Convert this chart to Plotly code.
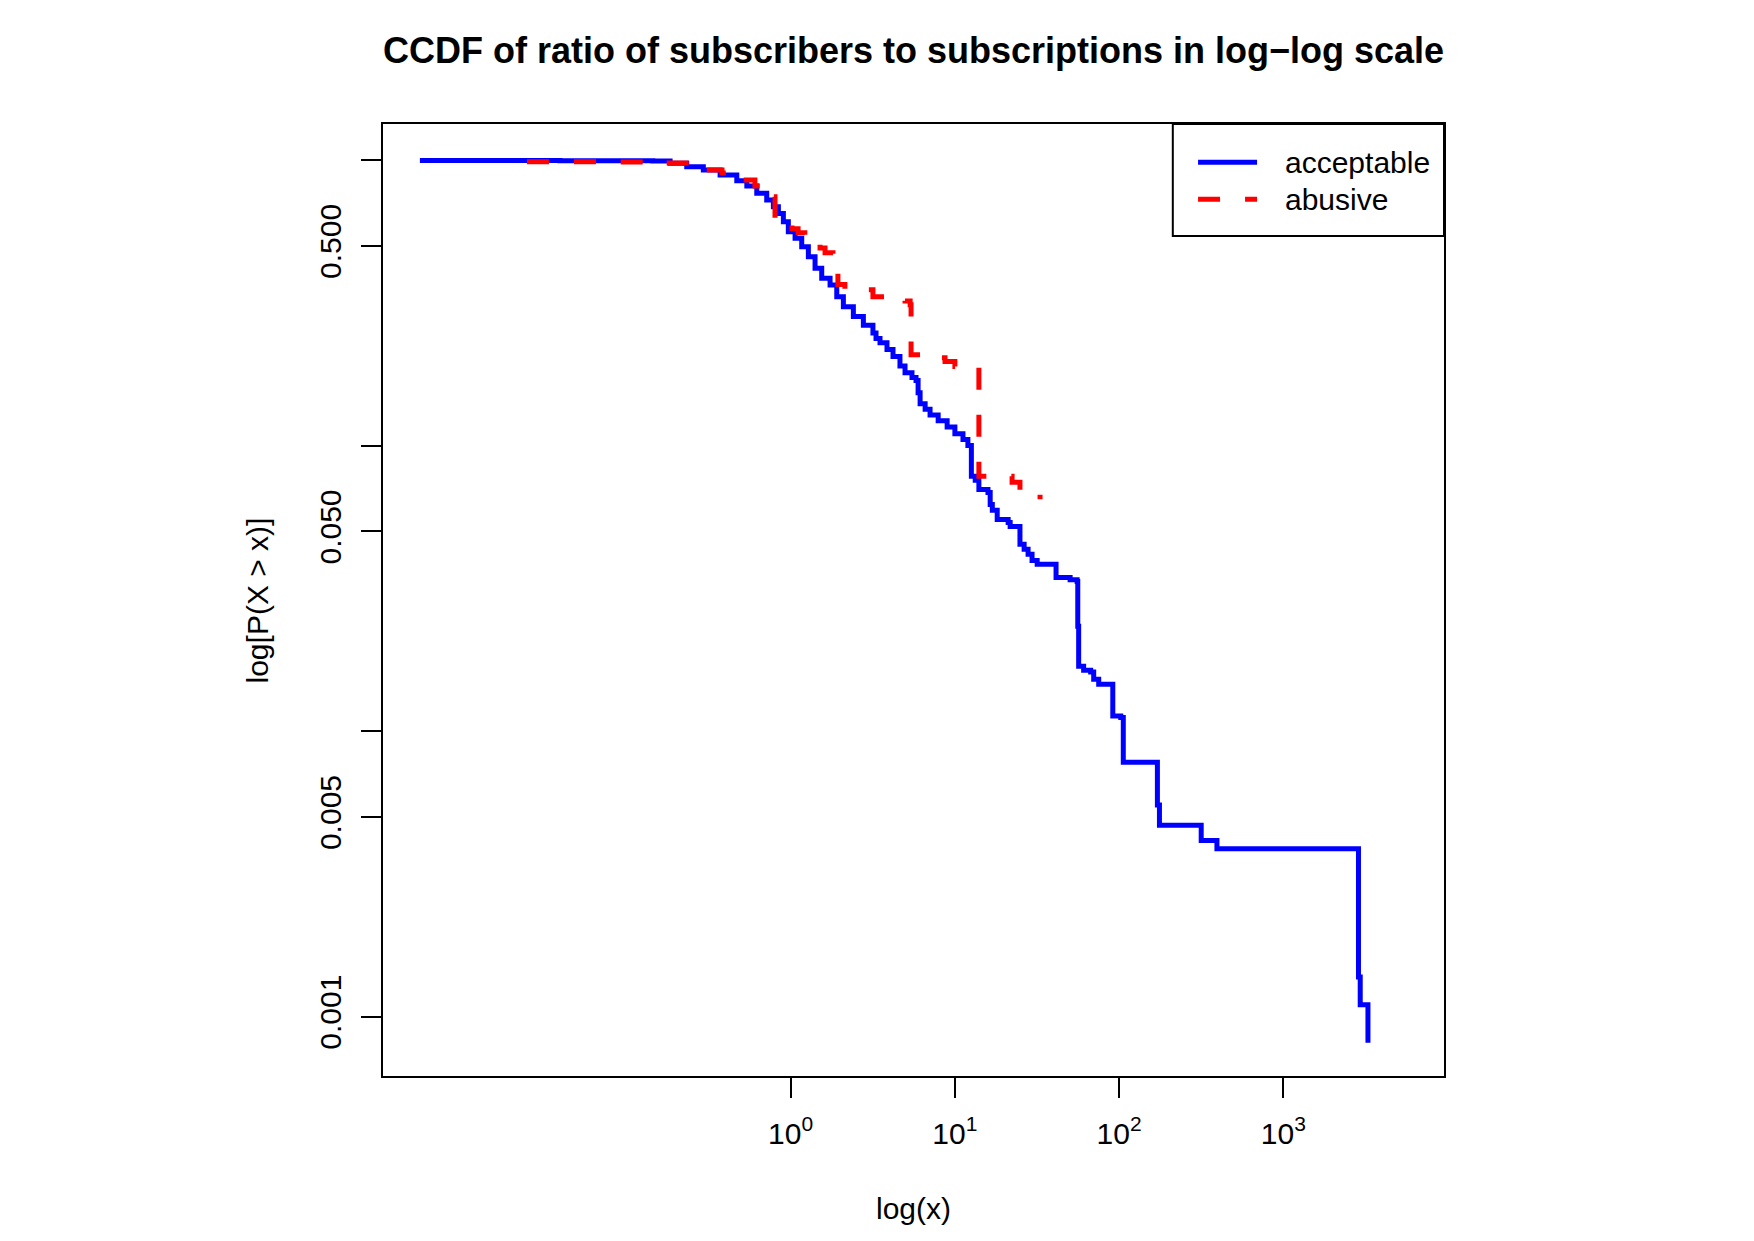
import plotly.graph_objects as go

# ---- data ----
acceptable_x = [0.00553, 0.0394, 0.145, 0.1845, 0.233, 0.294, 0.372, 0.470, 0.541, 0.622,
                0.715, 0.785, 0.842, 0.903, 0.968, 1.064, 1.168, 1.282, 1.408, 1.546,
                1.738, 1.909, 2.094, 2.409, 2.772, 3.17, 3.31, 3.50, 3.86,
                4.20, 4.63, 4.97, 5.48, 5.80, 5.97, 6.14, 6.59, 7.06, 7.91,
                8.97, 10.0, 11.2, 12.0, 12.6, 13.3, 14.0, 15.9, 16.4, 16.9,
                18.1, 21.1, 21.7, 24.9, 26.4, 27.9, 29.5, 31.7, 41.3, 50.3,
                55.5, 56.0, 56.7, 60.8, 67.1, 70.0, 75.1, 91.5, 102.3, 106,
                171, 176, 316, 394, 2866, 2937, 3273]
acceptable_p = [0.996, 0.994, 0.992, 0.974, 0.947, 0.923, 0.886, 0.846, 0.811, 0.764,
                0.724, 0.686, 0.650, 0.608, 0.561, 0.532, 0.497, 0.458, 0.418, 0.385,
                0.365, 0.332, 0.306, 0.283, 0.264, 0.248, 0.237, 0.229, 0.217,
                0.205, 0.190, 0.180, 0.173, 0.169, 0.153, 0.140, 0.134, 0.128, 0.122,
                0.116, 0.110, 0.105, 0.100, 0.078, 0.0755, 0.0702, 0.0685, 0.0622, 0.0593,
                0.0551, 0.0538, 0.0521, 0.0451, 0.0433, 0.0416, 0.0396, 0.0384, 0.0345, 0.0339,
                0.0334, 0.0233, 0.01687, 0.01634, 0.0161, 0.0152, 0.0146, 0.0113, 0.01116, 0.00778,
                0.00551, 0.00468, 0.00414, 0.00387, 0.001377, 0.001101, 0.00081]

abusive_x = [0.0248, 0.069, 0.160, 0.244, 0.301, 0.382, 0.492, 0.606, 0.697, 0.803,
             0.950, 1.02, 1.11, 1.22, 1.41, 1.51, 1.62, 1.81, 1.94, 2.14,
             3.17, 4.97, 5.34, 5.41, 7.57, 8.71, 10.0, 14.0, 22.3, 24.9, 33.0]
abusive_p = [0.986, 0.984, 0.976, 0.953, 0.923, 0.901, 0.851, 0.811, 0.743, 0.607,
             0.593, 0.574, 0.556, 0.533, 0.513, 0.492, 0.473, 0.403, 0.366, 0.351,
             0.332, 0.321, 0.311, 0.208, 0.203, 0.197, 0.189, 0.078, 0.0743, 0.0685, 0.0648]

x_tickvals = [1, 10, 100, 1000]
x_ticktext = ["10<sup>0</sup>", "10<sup>1</sup>", "10<sup>2</sup>", "10<sup>3</sup>"]
y_tickvals = [0.5, 0.05, 0.005, 0.001]
y_ticktext = ["0.500", "0.050", "0.005", "0.001"]
y_unlabeled_ticks = [1, 0.1, 0.01]

series_names = ["acceptable", "abusive"]
series_colors = ["#0000FF", "#FF0000"]

FONT = "Liberation Sans, Arial, Helvetica, sans-serif"

fig = go.Figure()
fig.add_trace(go.Scatter(x=acceptable_x, y=acceptable_p, mode="lines", name=series_names[0],
                         line=dict(color=series_colors[0], width=5, shape="hv"),
                         showlegend=False))
fig.add_trace(go.Scatter(x=abusive_x, y=abusive_p, mode="lines", name=series_names[1],
                         line=dict(color=series_colors[1], width=5, shape="hv", dash="22px,25px"),
                         showlegend=False))

axis_common = dict(showgrid=False, zeroline=False, showline=True, mirror=True,
                   linecolor="black", linewidth=2, ticks="outside", ticklen=20,
                   tickwidth=1.5, tickcolor="black",
                   tickfont=dict(family=FONT, size=30, color="black"))

fig.update_xaxes(type="log", range=[-2.482, 3.978], tickmode="array",
                 tickvals=x_tickvals, ticktext=x_ticktext, ticklabelstandoff=10, **axis_common)
fig.update_yaxes(type="log", range=[-3.208, 0.126], tickmode="array",
                 tickvals=y_tickvals, ticktext=y_ticktext, tickangle=-90, ticklabelstandoff=8,
                 minor=dict(tickmode="array", tickvals=y_unlabeled_ticks, ticks="outside",
                            ticklen=20, tickwidth=1.5, tickcolor="black", showgrid=False),
                 **axis_common)

# legend drawn as a box like the R legend
lg_x0, lg_x1, lg_y0, lg_y1 = 0.7444, 1.0, 0.8824, 1.0
fig.add_shape(type="rect", xref="paper", yref="paper", x0=lg_x0, x1=lg_x1, y0=lg_y0, y1=lg_y1,
              line=dict(color="black", width=2), fillcolor="white", layer="above")
legend_rows = [0.9598, 0.9209]
legend_dash = ["solid", "22px,25px"]
for name, color, yy, dsh in zip(series_names, series_colors, legend_rows, legend_dash):
    fig.add_shape(type="line", xref="paper", yref="paper", x0=0.7682, x1=0.8238, y0=yy, y1=yy,
                  line=dict(color=color, width=5, dash=dsh))
    fig.add_annotation(xref="paper", yref="paper", x=0.8486, y=yy, text=name, showarrow=False,
                       xanchor="left", yanchor="middle",
                       font=dict(family=FONT, size=30, color="black"))

# axis titles
fig.add_annotation(xref="paper", yref="paper", x=0.5, y=-0.1387, text="log(x)", showarrow=False,
                   xanchor="center", yanchor="middle", font=dict(family=FONT, size=30, color="black"))
fig.add_annotation(xref="paper", yref="paper", x=-0.1183, y=0.5, text="log[P(X > x)]", showarrow=False,
                   textangle=-90, xanchor="center", yanchor="middle",
                   font=dict(family=FONT, size=30, color="black"))

fig.update_layout(
    width=1754, height=1241,
    margin=dict(l=383, r=310, t=124, b=165, autoexpand=False),
    paper_bgcolor="white", plot_bgcolor="white",
    title=dict(text="<b>CCDF of ratio of subscribers to subscriptions in log\u2212log scale</b>",
               x=0.5, xref="paper", xanchor="center", y=1 - 50 / 1241, yanchor="middle",
               font=dict(family=FONT, size=36, color="black")),
    showlegend=False,
)

fig.write_html("out.html")
